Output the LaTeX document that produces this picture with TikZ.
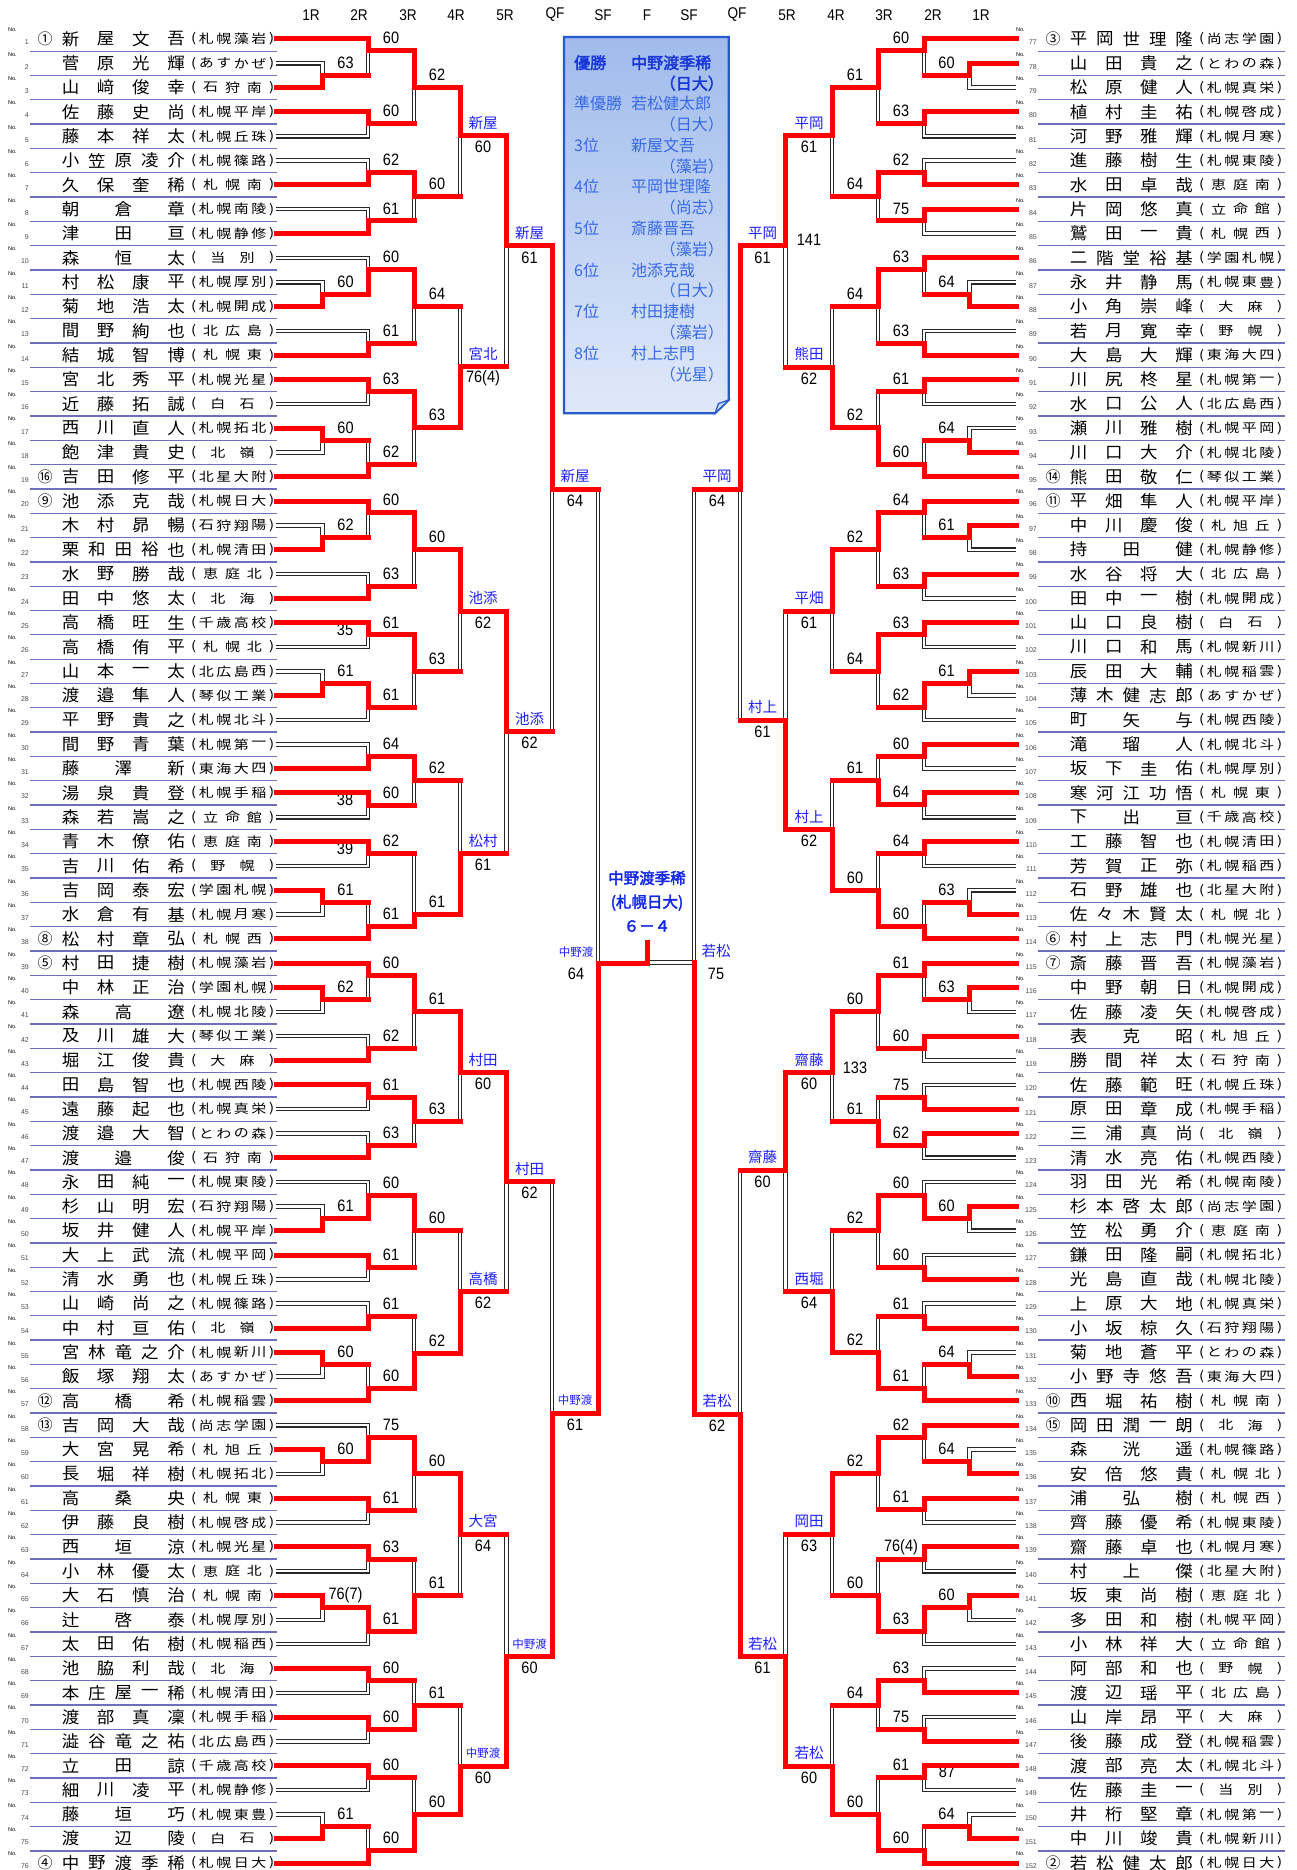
\documentclass[tikz,border=0pt]{standalone}
\usepackage{fontspec}
\setmainfont{Liberation Sans}
\newfontfamily\jp{Noto Sans CJK JP}
\newfontfamily\jpname[FakeStretch=1.06]{Noto Sans CJK JP}
\newfontfamily\jpsch[FakeStretch=1.2]{Noto Sans CJK JP}
\newfontfamily\jpbold[AutoFakeBold=2.5]{Noto Sans CJK JP}
\newfontfamily\numf[FakeStretch=0.88]{Liberation Sans}
\definecolor{rowline}{RGB}{110,110,190}
\definecolor{lblblue}{RGB}{30,30,255}
\definecolor{boxtop}{RGB}{160,187,235}
\definecolor{boxbot}{RGB}{224,233,250}
\definecolor{boxline}{RGB}{40,90,205}
\definecolor{boxtext}{RGB}{55,105,230}
\definecolor{boxbold}{RGB}{25,55,215}
\definecolor{champ}{RGB}{20,40,235}
\definecolor{dbl}{RGB}{40,40,40}
\tikzset{
 lose/.style={draw=dbl, line width=1.1pt, double=white, double distance=2.4pt, line join=miter},
 win/.style={draw=red, line width=5pt, line cap=rect, line join=miter},
 score/.style={inner sep=0pt, font=\numf\fontsize{16.5}{16.5}\selectfont},
 lbl/.style={inner sep=0pt, text=lblblue, font=\jp\fontsize{14.5}{14.5}\selectfont},
 namest/.style={inner sep=0pt, font=\jpname\fontsize{16.5}{16.5}\selectfont},
 schst/.style={inner sep=0pt, font=\jpsch\fontsize{12.5}{12.5}\selectfont},
 seedst/.style={inner sep=0pt, font=\jp\fontsize{15}{15}\selectfont},
 nost/.style={inner sep=0pt, font=\fontsize{5.5}{5.5}\selectfont},
 numst/.style={inner sep=0pt, text=black!70, font=\fontsize{7}{7}\selectfont},
 hdr/.style={inner sep=0pt, font=\numf\fontsize{15.5}{15.5}\selectfont},
 rowln/.style={draw=rowline, line width=1.3pt},
 bx/.style={inner sep=0pt, text=boxtext, font=\jp\fontsize{16}{16}\selectfont},
 bxb/.style={inner sep=0pt, text=boxbold, font=\jpbold\bfseries\fontsize{16}{16}\selectfont},
 champst/.style={inner sep=0pt, text=champ, font=\jpbold\bfseries\fontsize{15.5}{15.5}\selectfont},
}
\newcommand\sm[1]{{\fontsize{11.5}{11.5}\selectfont #1}}
\newcount\cnt
\newcount\passno
\def\xE{276}\def\xA{322.5}\def\xB{368}\def\xC{414}\def\xD{460}\def\xF{506.5}\def\xQ{552}\def\xS{598}
\newcommand\spreadtext[5]{%
  \global\cnt=0
  \foreach \ch in {#1}{\global\advance\cnt by 1}%
  \edef\nn{\the\cnt}%
  \foreach \ch [count=\kk] in {#1}{%
    \node[#5] at ({#2+(\kk-1)*((#3)-(#2))/(\nn-1)},#4) {\ch};}%
}
\newcommand\schooltext[3]{%
  \global\cnt=0
  \foreach \ch in {#1}{\global\advance\cnt by 1}%
  \edef\nn{\the\cnt}%
  \foreach \ch [count=\kk] in {#1}{%
    \node[schst] at ({#2+(\kk-(\nn+1)/2)*87.5/(\nn+1)},#3) {\ch};}%
}
\newcommand\Player[6]{%
  \pgfmathsetmacro\yy{39+(#1-1)*24.32}%
  \node[nost] at ({12.4+#2},{\yy-9}) {No.};
  \node[numst, anchor=east] at ({29+#2},{\yy+3.5}) {#3};
  \node[seedst] at ({45+#2},\yy) {#4};
  \spreadtext{#5}{70.5+#2}{176.2+#2}{\yy}{namest}%
  \node[schst] at ({193.6+#2},\yy) {(};
  \node[schst] at ({271.6+#2},\yy) {)};
  \schooltext{#6}{232.5+#2}{\yy}%
}
\newcommand\Match[9]{%
 \ifnum\passno=0
   \ifnum#7=1\relax
     \ifdim#3pt=\xE pt \draw[lose] (#3,#4) -- (#5,#4) -- (#5,#6);
     \else \draw[lose] (#5,#4) -- (#5,#6); \fi
   \else
     \ifdim#1pt=\xE pt \draw[lose] (#1,#2) -- (#5,#2) -- (#5,#6);
     \else \draw[lose] (#5,#2) -- (#5,#6); \fi
   \fi
 \fi
 \ifnum\passno=1
   \ifnum#7=1\relax
     \draw[win] (#1,#2) -- (#5,#2) -- (#5,#6);
     \ifdim#3pt=\xE pt\else \draw[win] (#3,#4) -- (#5,#4); \fi
   \else
     \draw[win] (#3,#4) -- (#5,#4) -- (#5,#6);
     \ifdim#1pt=\xE pt\else \draw[win] (#1,#2) -- (#5,#2); \fi
   \fi
 \fi
 \ifnum\passno=2
   \def\tmpa{#8}\def\tmpb{#9}%
   \ifx\tmpa\empty\else
   \ifx\tmpb\empty
     \node[score] at ({#5+23},{#6-12.5}) {#8};
   \else
     \node[lbl] at ({#5+23},{#6-12.8}) {#9};
     \node[score] at ({#5+23},{#6+11.5}) {#8};
   \fi\fi
 \fi
}
\def\leftM{%
\Match{\xE}{63.3}{\xE}{87.6}{\xA}{75.5}{2}{63}{}
\Match{\xE}{39}{\xA}{75.5}{\xB}{50.3}{1}{60}{}
\Match{\xE}{112}{\xE}{136.3}{\xB}{123.3}{1}{60}{}
\Match{\xE}{160.6}{\xE}{184.9}{\xB}{172.5}{2}{62}{}
\Match{\xE}{209.2}{\xE}{233.6}{\xB}{221}{2}{61}{}
\Match{\xE}{282.2}{\xE}{306.5}{\xA}{294.4}{2}{60}{}
\Match{\xE}{257.9}{\xA}{294.4}{\xB}{269.5}{2}{60}{}
\Match{\xE}{330.8}{\xE}{355.2}{\xB}{343}{2}{61}{}
\Match{\xB}{50.3}{\xB}{123.3}{\xC}{87.7}{1}{62}{}
\Match{\xB}{172.5}{\xB}{221}{\xC}{196.7}{1}{60}{}
\Match{\xB}{269.5}{\xB}{343}{\xC}{306.7}{1}{64}{}
\Match{\xC}{87.7}{\xC}{196.7}{\xD}{135.7}{1}{60}{新屋}
\Match{\xE}{379.5}{\xE}{403.8}{\xB}{391}{1}{63}{}
\Match{\xE}{428.1}{\xE}{452.4}{\xA}{440.2}{1}{60}{}
\Match{\xA}{440.2}{\xE}{476.8}{\xB}{464.3}{2}{62}{}
\Match{\xB}{391}{\xB}{464.3}{\xC}{427.3}{1}{63}{}
\Match{\xC}{306.7}{\xC}{427.3}{\xD}{366.7}{2}{76(4)}{宮北}
\Match{\xD}{135.7}{\xD}{366.7}{\xF}{246}{1}{61}{新屋}
\Match{\xE}{525.4}{\xE}{549.7}{\xA}{537.6}{2}{62}{}
\Match{\xE}{501.1}{\xA}{537.6}{\xB}{512}{1}{60}{}
\Match{\xE}{574}{\xE}{598.4}{\xB}{586.2}{2}{63}{}
\Match{\xB}{512}{\xB}{586.2}{\xC}{549.3}{1}{60}{}
\Match{\xE}{622.7}{\xE}{647}{\xB}{634.9}{1}{61}{}
\Match{\xE}{671.3}{\xE}{695.6}{\xA}{683.5}{2}{61}{}
\Match{\xA}{683.5}{\xE}{720}{\xB}{707.7}{1}{61}{}
\Match{\xB}{634.9}{\xB}{707.7}{\xC}{671.7}{1}{63}{}
\Match{\xC}{549.3}{\xC}{671.7}{\xD}{611}{1}{62}{池添}
\Match{\xE}{744.3}{\xE}{768.6}{\xB}{756.5}{2}{64}{}
\Match{\xE}{792.9}{\xE}{817.2}{\xB}{805}{1}{60}{}
\Match{\xB}{756.5}{\xB}{805}{\xC}{780.7}{1}{62}{}
\Match{\xE}{841.6}{\xE}{865.9}{\xB}{853.7}{1}{62}{}
\Match{\xE}{890.2}{\xE}{914.5}{\xA}{902.4}{1}{61}{}
\Match{\xA}{902.4}{\xE}{938.8}{\xB}{926}{2}{61}{}
\Match{\xB}{853.7}{\xB}{926}{\xC}{914.3}{2}{61}{}
\Match{\xC}{780.7}{\xC}{914.3}{\xD}{853.3}{2}{61}{松村}
\Match{\xD}{611}{\xD}{853.3}{\xF}{731.7}{1}{62}{池添}
\Match{\xF}{246}{\xF}{731.7}{\xQ}{489}{1}{64}{新屋}
\Match{\xE}{987.5}{\xE}{1011.8}{\xA}{999.7}{1}{62}{}
\Match{\xE}{963.2}{\xA}{999.7}{\xB}{975.7}{1}{60}{}
\Match{\xE}{1036.1}{\xE}{1060.4}{\xB}{1048.3}{2}{62}{}
\Match{\xB}{975.7}{\xB}{1048.3}{\xC}{1011.7}{1}{61}{}
\Match{\xE}{1084.8}{\xE}{1109.1}{\xB}{1097}{1}{61}{}
\Match{\xE}{1133.4}{\xE}{1157.7}{\xB}{1145.5}{2}{63}{}
\Match{\xB}{1097}{\xB}{1145.5}{\xC}{1121}{1}{63}{}
\Match{\xC}{1011.7}{\xC}{1121}{\xD}{1072.7}{1}{60}{村田}
\Match{\xE}{1206.4}{\xE}{1230.7}{\xA}{1218.5}{2}{61}{}
\Match{\xE}{1182}{\xA}{1218.5}{\xB}{1195}{2}{60}{}
\Match{\xE}{1255}{\xE}{1279.3}{\xB}{1267}{1}{61}{}
\Match{\xB}{1195}{\xB}{1267}{\xC}{1230.7}{1}{60}{}
\Match{\xE}{1303.6}{\xE}{1328}{\xB}{1316}{2}{61}{}
\Match{\xE}{1352.3}{\xE}{1376.6}{\xA}{1364.5}{1}{60}{}
\Match{\xA}{1364.5}{\xE}{1400.9}{\xB}{1388.3}{2}{60}{}
\Match{\xB}{1316}{\xB}{1388.3}{\xC}{1353.3}{2}{62}{}
\Match{\xC}{1230.7}{\xC}{1353.3}{\xD}{1291.7}{2}{62}{高橋}
\Match{\xD}{1072.7}{\xD}{1291.7}{\xF}{1181.7}{1}{62}{村田}
\Match{\xE}{1449.6}{\xE}{1473.9}{\xA}{1461.7}{1}{60}{}
\Match{\xE}{1425.2}{\xA}{1461.7}{\xB}{1437.7}{2}{75}{}
\Match{\xE}{1498.2}{\xE}{1522.5}{\xB}{1510.3}{1}{61}{}
\Match{\xB}{1437.7}{\xB}{1510.3}{\xC}{1473.3}{1}{60}{}
\Match{\xE}{1546.8}{\xE}{1571.2}{\xB}{1559.3}{1}{63}{}
\Match{\xE}{1595.5}{\xE}{1619.8}{\xA}{1607.7}{1}{76(7)}{}
\Match{\xA}{1607.7}{\xE}{1644.1}{\xB}{1631.7}{1}{61}{}
\Match{\xB}{1559.3}{\xB}{1631.7}{\xC}{1595}{2}{61}{}
\Match{\xC}{1473.3}{\xC}{1595}{\xD}{1534}{1}{64}{大宮}
\Match{\xE}{1668.4}{\xE}{1692.8}{\xB}{1680.7}{1}{60}{}
\Match{\xE}{1717.1}{\xE}{1741.4}{\xB}{1729.5}{1}{60}{}
\Match{\xB}{1680.7}{\xB}{1729.5}{\xC}{1705.7}{2}{61}{}
\Match{\xE}{1765.7}{\xE}{1790}{\xB}{1777.7}{1}{60}{}
\Match{\xE}{1814.4}{\xE}{1838.7}{\xA}{1826.5}{2}{61}{}
\Match{\xA}{1826.5}{\xE}{1863}{\xB}{1850}{2}{60}{}
\Match{\xB}{1777.7}{\xB}{1850}{\xC}{1814.3}{2}{60}{}
\Match{\xC}{1705.7}{\xC}{1814.3}{\xD}{1766}{2}{60}{\sm{中野渡}}
\Match{\xD}{1534}{\xD}{1766}{\xF}{1656.7}{2}{60}{\sm{中野渡}}
\Match{\xF}{1181.7}{\xF}{1656.7}{\xQ}{1413.3}{2}{61}{\sm{中野渡}}
\Match{\xQ}{489}{\xQ}{1413.3}{\xS}{963.3}{2}{}{}
}
\def\rightM{%
\Match{\xE}{63.3}{\xE}{87.6}{\xA}{75.5}{1}{60}{}
\Match{\xE}{39}{\xA}{75.5}{\xB}{50.3}{1}{60}{}
\Match{\xE}{112}{\xE}{136.3}{\xB}{123.3}{1}{63}{}
\Match{\xB}{50.3}{\xB}{123.3}{\xC}{87.7}{1}{61}{}
\Match{\xE}{160.6}{\xE}{184.9}{\xB}{172.5}{2}{62}{}
\Match{\xE}{209.2}{\xE}{233.6}{\xB}{221}{1}{75}{}
\Match{\xB}{172.5}{\xB}{221}{\xC}{196.7}{1}{64}{}
\Match{\xC}{87.7}{\xC}{196.7}{\xD}{135.7}{1}{61}{平岡}
\Match{\xE}{282.2}{\xE}{306.5}{\xA}{294.4}{2}{64}{}
\Match{\xE}{257.9}{\xA}{294.4}{\xB}{269.5}{1}{63}{}
\Match{\xE}{330.8}{\xE}{355.2}{\xB}{343}{2}{63}{}
\Match{\xB}{269.5}{\xB}{343}{\xC}{306.7}{1}{64}{}
\Match{\xE}{379.5}{\xE}{403.8}{\xB}{391.7}{1}{61}{}
\Match{\xE}{428.1}{\xE}{452.4}{\xA}{440.2}{2}{64}{}
\Match{\xA}{440.2}{\xE}{476.8}{\xB}{464.3}{2}{60}{}
\Match{\xB}{391.7}{\xB}{464.3}{\xC}{427.3}{2}{62}{}
\Match{\xC}{306.7}{\xC}{427.3}{\xD}{367.3}{2}{62}{熊田}
\Match{\xD}{135.7}{\xD}{367.3}{\xF}{246}{1}{61}{平岡}
\Match{\xE}{525.4}{\xE}{549.7}{\xA}{537.6}{1}{61}{}
\Match{\xE}{501.1}{\xA}{537.6}{\xB}{512}{1}{64}{}
\Match{\xE}{574}{\xE}{598.4}{\xB}{586.2}{1}{63}{}
\Match{\xB}{512}{\xB}{586.2}{\xC}{549.3}{1}{62}{}
\Match{\xE}{622.7}{\xE}{647}{\xB}{634.9}{1}{63}{}
\Match{\xE}{671.3}{\xE}{695.6}{\xA}{683.5}{1}{61}{}
\Match{\xA}{683.5}{\xE}{720}{\xB}{707.7}{1}{62}{}
\Match{\xB}{634.9}{\xB}{707.7}{\xC}{671.7}{1}{64}{}
\Match{\xC}{549.3}{\xC}{671.7}{\xD}{611}{1}{61}{平畑}
\Match{\xE}{744.3}{\xE}{768.6}{\xB}{756.5}{1}{60}{}
\Match{\xE}{792.9}{\xE}{817.2}{\xB}{804}{1}{64}{}
\Match{\xB}{756.5}{\xB}{804}{\xC}{780.7}{2}{61}{}
\Match{\xE}{841.6}{\xE}{865.9}{\xB}{853.7}{1}{64}{}
\Match{\xE}{890.2}{\xE}{914.5}{\xA}{902.4}{2}{63}{}
\Match{\xA}{902.4}{\xE}{938.8}{\xB}{926}{2}{60}{}
\Match{\xB}{853.7}{\xB}{926}{\xC}{890}{2}{60}{}
\Match{\xC}{780.7}{\xC}{890}{\xD}{829.3}{2}{62}{村上}
\Match{\xD}{611}{\xD}{829.3}{\xF}{720}{2}{61}{村上}
\Match{\xF}{246}{\xF}{720}{\xQ}{489}{1}{64}{平岡}
\Match{\xE}{987.5}{\xE}{1011.8}{\xA}{999.7}{1}{63}{}
\Match{\xE}{963.2}{\xA}{999.7}{\xB}{975.7}{1}{61}{}
\Match{\xE}{1036.1}{\xE}{1060.4}{\xB}{1048.3}{1}{60}{}
\Match{\xB}{975.7}{\xB}{1048.3}{\xC}{1011.7}{1}{60}{}
\Match{\xE}{1084.8}{\xE}{1109.1}{\xB}{1097}{2}{75}{}
\Match{\xE}{1133.4}{\xE}{1157.7}{\xB}{1145.5}{1}{62}{}
\Match{\xB}{1097}{\xB}{1145.5}{\xC}{1121}{2}{61}{}
\Match{\xC}{1011.7}{\xC}{1121}{\xD}{1072.7}{1}{60}{齋藤}
\Match{\xE}{1206.4}{\xE}{1230.7}{\xA}{1218.5}{1}{60}{}
\Match{\xE}{1182}{\xA}{1218.5}{\xB}{1195}{2}{60}{}
\Match{\xE}{1255}{\xE}{1279.3}{\xB}{1267}{2}{60}{}
\Match{\xB}{1195}{\xB}{1267}{\xC}{1230.7}{1}{62}{}
\Match{\xE}{1303.6}{\xE}{1328}{\xB}{1316}{2}{61}{}
\Match{\xE}{1352.3}{\xE}{1376.6}{\xA}{1364.5}{2}{64}{}
\Match{\xA}{1364.5}{\xE}{1400.9}{\xB}{1388.3}{2}{61}{}
\Match{\xB}{1316}{\xB}{1388.3}{\xC}{1352.7}{2}{62}{}
\Match{\xC}{1230.7}{\xC}{1352.7}{\xD}{1291.7}{2}{64}{西堀}
\Match{\xD}{1072.7}{\xD}{1291.7}{\xF}{1170}{1}{60}{齋藤}
\Match{\xE}{1449.6}{\xE}{1473.9}{\xA}{1461.7}{2}{64}{}
\Match{\xE}{1425.2}{\xA}{1461.7}{\xB}{1437.7}{1}{62}{}
\Match{\xE}{1498.2}{\xE}{1522.5}{\xB}{1509.7}{1}{61}{}
\Match{\xB}{1437.7}{\xB}{1509.7}{\xC}{1473.3}{1}{62}{}
\Match{\xE}{1546.8}{\xE}{1571.2}{\xB}{1559.3}{1}{76(4)}{}
\Match{\xE}{1595.5}{\xE}{1619.8}{\xA}{1607.7}{1}{60}{}
\Match{\xA}{1607.7}{\xE}{1644.1}{\xB}{1631.7}{1}{63}{}
\Match{\xB}{1559.3}{\xB}{1631.7}{\xC}{1595}{2}{60}{}
\Match{\xC}{1473.3}{\xC}{1595}{\xD}{1534}{1}{63}{岡田}
\Match{\xE}{1668.4}{\xE}{1692.8}{\xB}{1680.7}{2}{63}{}
\Match{\xE}{1717.1}{\xE}{1741.4}{\xB}{1729.5}{2}{75}{}
\Match{\xB}{1680.7}{\xB}{1729.5}{\xC}{1705.7}{1}{64}{}
\Match{\xE}{1765.7}{\xE}{1790}{\xB}{1777.7}{1}{61}{}
\Match{\xE}{1814.4}{\xE}{1838.7}{\xA}{1826.5}{2}{64}{}
\Match{\xA}{1826.5}{\xE}{1863}{\xB}{1850}{2}{60}{}
\Match{\xB}{1777.7}{\xB}{1850}{\xC}{1814.3}{2}{60}{}
\Match{\xC}{1705.7}{\xC}{1814.3}{\xD}{1766}{2}{60}{若松}
\Match{\xD}{1534}{\xD}{1766}{\xF}{1656.7}{2}{61}{若松}
\Match{\xF}{1170}{\xF}{1656.7}{\xQ}{1414}{2}{62}{若松}
\Match{\xQ}{489}{\xQ}{1414}{\xS}{962.3}{2}{}{}
}
\begin{document}
\begin{tikzpicture}[x=1pt,y=-1pt]
\useasboundingbox (0,0) rectangle (1297,1870);
\fill[white] (0,0) rectangle (1297,1870);
% row lines
\foreach \i in {1,...,75}{%
  \pgfmathsetmacro\ly{39+(\i-1)*24.32+12.16}
  \draw[rowln] (30,\ly) -- (276.5,\ly);
  \draw[rowln] (1038,\ly) -- (1284.5,\ly);
}
% headers
\foreach \t/\x in {1R/311,2R/359,3R/408,4R/456,5R/505,QF/555,SF/603,F/647,SF/689,QF/737,5R/787,4R/836,3R/884,2R/933,1R/981}
  \node[hdr] at (\x,15) {\t};
% pass 0: losing (double) lines
\passno=0
\leftM
\begin{scope}[xshift=1292pt,xscale=-1]\rightM\end{scope}
\draw[lose] (694,962.3) -- (649,962.3);
% stray numbers under red lines
\node[score] at (345,630) {35};
\node[score] at (345,800) {38};
\node[score] at (345,849) {39};
\node[score] at (947,1771.7) {87};
% pass 1: winning red lines
\passno=1
\leftM
\begin{scope}[xshift=1292pt,xscale=-1]\rightM\end{scope}
\draw[win] (598,963.3) -- (647,963.3) -- (647,942);
% pass 2: labels
\passno=2
\leftM
\begin{scope}[xshift=1292pt,xscale=-1]\rightM\end{scope}
\node[lbl] at (576,952) {\sm{中野渡}};
\node[score] at (576,974) {64};
\node[lbl] at (716,950.7) {若松};
\node[score] at (716,974) {75};
\node[score] at (809,240) {141};
\node[score] at (855,1067.7) {133};
% champion text
\node[champst] at (647,878) {中野渡季稀};
\node[champst] at (647,902.7) {(札幌日大)};
\node[champst] at (647,926) {６－４};
% result box
\shadedraw[top color=boxtop, bottom color=boxbot, draw=boxline, line width=2.2pt]
  (564,37) -- (728.7,37) -- (728.7,400) -- (715,413.3) -- (564,413.3) -- cycle;
\filldraw[fill=boxtop!60!white, draw=boxline, line width=1.2pt] (715,413.3) -- (718.5,403.5) -- (728.7,400) -- cycle;
\node[bxb, anchor=west] at (574,62.7) {優勝};
\node[bxb, anchor=west] at (631,62.7) {中野渡季稀};
\node[bxb, anchor=east] at (724,83.3) {（日大）};
\node[bx, anchor=west] at (574,103.7) {準優勝};
\node[bx, anchor=west] at (631,103.7) {若松健太郎};
\node[bx, anchor=east] at (724,124.5) {（日大）};
\node[bx, anchor=west] at (574,145.3) {3位};
\node[bx, anchor=west] at (631,145.3) {新屋文吾};
\node[bx, anchor=east] at (724,166.1) {（藻岩）};
\node[bx, anchor=west] at (574,186.9) {4位};
\node[bx, anchor=west] at (631,186.9) {平岡世理隆};
\node[bx, anchor=east] at (724,207.7) {（尚志）};
\node[bx, anchor=west] at (574,228.5) {5位};
\node[bx, anchor=west] at (631,228.5) {斎藤晋吾};
\node[bx, anchor=east] at (724,249.3) {（藻岩）};
\node[bx, anchor=west] at (574,270.1) {6位};
\node[bx, anchor=west] at (631,270.1) {池添克哉};
\node[bx, anchor=east] at (724,290.9) {（日大）};
\node[bx, anchor=west] at (574,311.7) {7位};
\node[bx, anchor=west] at (631,311.7) {村田捷樹};
\node[bx, anchor=east] at (724,332.5) {（藻岩）};
\node[bx, anchor=west] at (574,353.3) {8位};
\node[bx, anchor=west] at (631,353.3) {村上志門};
\node[bx, anchor=east] at (724,374.1) {（光星）};
% players left
\Player{1}{0}{1}{①}{新,屋,文,吾}{札,幌,藻,岩}
\Player{2}{0}{2}{}{菅,原,光,輝}{あ,す,か,ぜ}
\Player{3}{0}{3}{}{山,﨑,俊,幸}{石,狩,南}
\Player{4}{0}{4}{}{佐,藤,史,尚}{札,幌,平,岸}
\Player{5}{0}{5}{}{藤,本,祥,太}{札,幌,丘,珠}
\Player{6}{0}{6}{}{小,笠,原,凌,介}{札,幌,篠,路}
\Player{7}{0}{7}{}{久,保,奎,稀}{札,幌,南}
\Player{8}{0}{8}{}{朝,倉,章}{札,幌,南,陵}
\Player{9}{0}{9}{}{津,田,亘}{札,幌,静,修}
\Player{10}{0}{10}{}{森,恒,太}{当,別}
\Player{11}{0}{11}{}{村,松,康,平}{札,幌,厚,別}
\Player{12}{0}{12}{}{菊,地,浩,太}{札,幌,開,成}
\Player{13}{0}{13}{}{間,野,絢,也}{北,広,島}
\Player{14}{0}{14}{}{結,城,智,博}{札,幌,東}
\Player{15}{0}{15}{}{宮,北,秀,平}{札,幌,光,星}
\Player{16}{0}{16}{}{近,藤,拓,誠}{白,石}
\Player{17}{0}{17}{}{西,川,直,人}{札,幌,拓,北}
\Player{18}{0}{18}{}{飽,津,貴,史}{北,嶺}
\Player{19}{0}{19}{⑯}{吉,田,修,平}{北,星,大,附}
\Player{20}{0}{20}{⑨}{池,添,克,哉}{札,幌,日,大}
\Player{21}{0}{21}{}{木,村,昴,暢}{石,狩,翔,陽}
\Player{22}{0}{22}{}{栗,和,田,裕,也}{札,幌,清,田}
\Player{23}{0}{23}{}{水,野,勝,哉}{恵,庭,北}
\Player{24}{0}{24}{}{田,中,悠,太}{北,海}
\Player{25}{0}{25}{}{高,橋,旺,生}{千,歳,高,校}
\Player{26}{0}{26}{}{高,橋,侑,平}{札,幌,北}
\Player{27}{0}{27}{}{山,本,一,太}{北,広,島,西}
\Player{28}{0}{28}{}{渡,邉,隼,人}{琴,似,工,業}
\Player{29}{0}{29}{}{平,野,貴,之}{札,幌,北,斗}
\Player{30}{0}{30}{}{間,野,青,葉}{札,幌,第,一}
\Player{31}{0}{31}{}{藤,澤,新}{東,海,大,四}
\Player{32}{0}{32}{}{湯,泉,貴,登}{札,幌,手,稲}
\Player{33}{0}{33}{}{森,若,嵩,之}{立,命,館}
\Player{34}{0}{34}{}{青,木,僚,佑}{恵,庭,南}
\Player{35}{0}{35}{}{吉,川,佑,希}{野,幌}
\Player{36}{0}{36}{}{吉,岡,泰,宏}{学,園,札,幌}
\Player{37}{0}{37}{}{水,倉,有,基}{札,幌,月,寒}
\Player{38}{0}{38}{⑧}{松,村,章,弘}{札,幌,西}
\Player{39}{0}{39}{⑤}{村,田,捷,樹}{札,幌,藻,岩}
\Player{40}{0}{40}{}{中,林,正,治}{学,園,札,幌}
\Player{41}{0}{41}{}{森,高,遼}{札,幌,北,陵}
\Player{42}{0}{42}{}{及,川,雄,大}{琴,似,工,業}
\Player{43}{0}{43}{}{堀,江,俊,貴}{大,麻}
\Player{44}{0}{44}{}{田,島,智,也}{札,幌,西,陵}
\Player{45}{0}{45}{}{遠,藤,起,也}{札,幌,真,栄}
\Player{46}{0}{46}{}{渡,邉,大,智}{と,わ,の,森}
\Player{47}{0}{47}{}{渡,邉,俊}{石,狩,南}
\Player{48}{0}{48}{}{永,田,純,一}{札,幌,東,陵}
\Player{49}{0}{49}{}{杉,山,明,宏}{石,狩,翔,陽}
\Player{50}{0}{50}{}{坂,井,健,人}{札,幌,平,岸}
\Player{51}{0}{51}{}{大,上,武,流}{札,幌,平,岡}
\Player{52}{0}{52}{}{清,水,勇,也}{札,幌,丘,珠}
\Player{53}{0}{53}{}{山,崎,尚,之}{札,幌,篠,路}
\Player{54}{0}{54}{}{中,村,亘,佑}{北,嶺}
\Player{55}{0}{55}{}{宮,林,竜,之,介}{札,幌,新,川}
\Player{56}{0}{56}{}{飯,塚,翔,太}{あ,す,か,ぜ}
\Player{57}{0}{57}{⑫}{高,橋,希}{札,幌,稲,雲}
\Player{58}{0}{58}{⑬}{吉,岡,大,哉}{尚,志,学,園}
\Player{59}{0}{59}{}{大,宮,晃,希}{札,旭,丘}
\Player{60}{0}{60}{}{長,堀,祥,樹}{札,幌,拓,北}
\Player{61}{0}{61}{}{高,桑,央}{札,幌,東}
\Player{62}{0}{62}{}{伊,藤,良,樹}{札,幌,啓,成}
\Player{63}{0}{63}{}{西,垣,涼}{札,幌,光,星}
\Player{64}{0}{64}{}{小,林,優,太}{恵,庭,北}
\Player{65}{0}{65}{}{大,石,慎,治}{札,幌,南}
\Player{66}{0}{66}{}{辻,啓,泰}{札,幌,厚,別}
\Player{67}{0}{67}{}{太,田,佑,樹}{札,幌,稲,西}
\Player{68}{0}{68}{}{池,脇,利,哉}{北,海}
\Player{69}{0}{69}{}{本,庄,屋,一,稀}{札,幌,清,田}
\Player{70}{0}{70}{}{渡,部,真,凜}{札,幌,手,稲}
\Player{71}{0}{71}{}{澁,谷,竜,之,祐}{北,広,島,西}
\Player{72}{0}{72}{}{立,田,諒}{千,歳,高,校}
\Player{73}{0}{73}{}{細,川,凌,平}{札,幌,静,修}
\Player{74}{0}{74}{}{藤,垣,巧}{札,幌,東,豊}
\Player{75}{0}{75}{}{渡,辺,陵}{白,石}
\Player{76}{0}{76}{④}{中,野,渡,季,稀}{札,幌,日,大}
% players right
\Player{1}{1008}{77}{③}{平,岡,世,理,隆}{尚,志,学,園}
\Player{2}{1008}{78}{}{山,田,貴,之}{と,わ,の,森}
\Player{3}{1008}{79}{}{松,原,健,人}{札,幌,真,栄}
\Player{4}{1008}{80}{}{植,村,圭,祐}{札,幌,啓,成}
\Player{5}{1008}{81}{}{河,野,雅,輝}{札,幌,月,寒}
\Player{6}{1008}{82}{}{進,藤,樹,生}{札,幌,東,陵}
\Player{7}{1008}{83}{}{水,田,卓,哉}{恵,庭,南}
\Player{8}{1008}{84}{}{片,岡,悠,真}{立,命,館}
\Player{9}{1008}{85}{}{鷲,田,一,貴}{札,幌,西}
\Player{10}{1008}{86}{}{二,階,堂,裕,基}{学,園,札,幌}
\Player{11}{1008}{87}{}{永,井,静,馬}{札,幌,東,豊}
\Player{12}{1008}{88}{}{小,角,崇,峰}{大,麻}
\Player{13}{1008}{89}{}{若,月,寛,幸}{野,幌}
\Player{14}{1008}{90}{}{大,島,大,輝}{東,海,大,四}
\Player{15}{1008}{91}{}{川,尻,柊,星}{札,幌,第,一}
\Player{16}{1008}{92}{}{水,口,公,人}{北,広,島,西}
\Player{17}{1008}{93}{}{瀬,川,雅,樹}{札,幌,平,岡}
\Player{18}{1008}{94}{}{川,口,大,介}{札,幌,北,陵}
\Player{19}{1008}{95}{⑭}{熊,田,敬,仁}{琴,似,工,業}
\Player{20}{1008}{96}{⑪}{平,畑,隼,人}{札,幌,平,岸}
\Player{21}{1008}{97}{}{中,川,慶,俊}{札,旭,丘}
\Player{22}{1008}{98}{}{持,田,健}{札,幌,静,修}
\Player{23}{1008}{99}{}{水,谷,将,大}{北,広,島}
\Player{24}{1008}{100}{}{田,中,一,樹}{札,幌,開,成}
\Player{25}{1008}{101}{}{山,口,良,樹}{白,石}
\Player{26}{1008}{102}{}{川,口,和,馬}{札,幌,新,川}
\Player{27}{1008}{103}{}{辰,田,大,輔}{札,幌,稲,雲}
\Player{28}{1008}{104}{}{薄,木,健,志,郎}{あ,す,か,ぜ}
\Player{29}{1008}{105}{}{町,矢,与}{札,幌,西,陵}
\Player{30}{1008}{106}{}{滝,瑠,人}{札,幌,北,斗}
\Player{31}{1008}{107}{}{坂,下,圭,佑}{札,幌,厚,別}
\Player{32}{1008}{108}{}{寒,河,江,功,悟}{札,幌,東}
\Player{33}{1008}{109}{}{下,出,亘}{千,歳,高,校}
\Player{34}{1008}{110}{}{工,藤,智,也}{札,幌,清,田}
\Player{35}{1008}{111}{}{芳,賀,正,弥}{札,幌,稲,西}
\Player{36}{1008}{112}{}{石,野,雄,也}{北,星,大,附}
\Player{37}{1008}{113}{}{佐,々,木,賢,太}{札,幌,北}
\Player{38}{1008}{114}{⑥}{村,上,志,門}{札,幌,光,星}
\Player{39}{1008}{115}{⑦}{斎,藤,晋,吾}{札,幌,藻,岩}
\Player{40}{1008}{116}{}{中,野,朝,日}{札,幌,開,成}
\Player{41}{1008}{117}{}{佐,藤,凌,矢}{札,幌,啓,成}
\Player{42}{1008}{118}{}{表,克,昭}{札,旭,丘}
\Player{43}{1008}{119}{}{勝,間,祥,太}{石,狩,南}
\Player{44}{1008}{120}{}{佐,藤,範,旺}{札,幌,丘,珠}
\Player{45}{1008}{121}{}{原,田,章,成}{札,幌,手,稲}
\Player{46}{1008}{122}{}{三,浦,真,尚}{北,嶺}
\Player{47}{1008}{123}{}{清,水,亮,佑}{札,幌,西,陵}
\Player{48}{1008}{124}{}{羽,田,光,希}{札,幌,南,陵}
\Player{49}{1008}{125}{}{杉,本,啓,太,郎}{尚,志,学,園}
\Player{50}{1008}{126}{}{笠,松,勇,介}{恵,庭,南}
\Player{51}{1008}{127}{}{鎌,田,隆,嗣}{札,幌,拓,北}
\Player{52}{1008}{128}{}{光,島,直,哉}{札,幌,北,陵}
\Player{53}{1008}{129}{}{上,原,大,地}{札,幌,真,栄}
\Player{54}{1008}{130}{}{小,坂,椋,久}{石,狩,翔,陽}
\Player{55}{1008}{131}{}{菊,地,蒼,平}{と,わ,の,森}
\Player{56}{1008}{132}{}{小,野,寺,悠,吾}{東,海,大,四}
\Player{57}{1008}{133}{⑩}{西,堀,祐,樹}{札,幌,南}
\Player{58}{1008}{134}{⑮}{岡,田,潤,一,朗}{北,海}
\Player{59}{1008}{135}{}{森,洸,遥}{札,幌,篠,路}
\Player{60}{1008}{136}{}{安,倍,悠,貴}{札,幌,北}
\Player{61}{1008}{137}{}{浦,弘,樹}{札,幌,西}
\Player{62}{1008}{138}{}{齊,藤,優,希}{札,幌,東,陵}
\Player{63}{1008}{139}{}{齋,藤,卓,也}{札,幌,月,寒}
\Player{64}{1008}{140}{}{村,上,傑}{北,星,大,附}
\Player{65}{1008}{141}{}{坂,東,尚,樹}{恵,庭,北}
\Player{66}{1008}{142}{}{多,田,和,樹}{札,幌,平,岡}
\Player{67}{1008}{143}{}{小,林,祥,大}{立,命,館}
\Player{68}{1008}{144}{}{阿,部,和,也}{野,幌}
\Player{69}{1008}{145}{}{渡,辺,瑶,平}{北,広,島}
\Player{70}{1008}{146}{}{山,岸,昂,平}{大,麻}
\Player{71}{1008}{147}{}{後,藤,成,登}{札,幌,稲,雲}
\Player{72}{1008}{148}{}{渡,部,亮,太}{札,幌,北,斗}
\Player{73}{1008}{149}{}{佐,藤,圭,一}{当,別}
\Player{74}{1008}{150}{}{井,桁,堅,章}{札,幌,第,一}
\Player{75}{1008}{151}{}{中,川,竣,貴}{札,幌,新,川}
\Player{76}{1008}{152}{②}{若,松,健,太,郎}{札,幌,日,大}
\end{tikzpicture}
\end{document}
